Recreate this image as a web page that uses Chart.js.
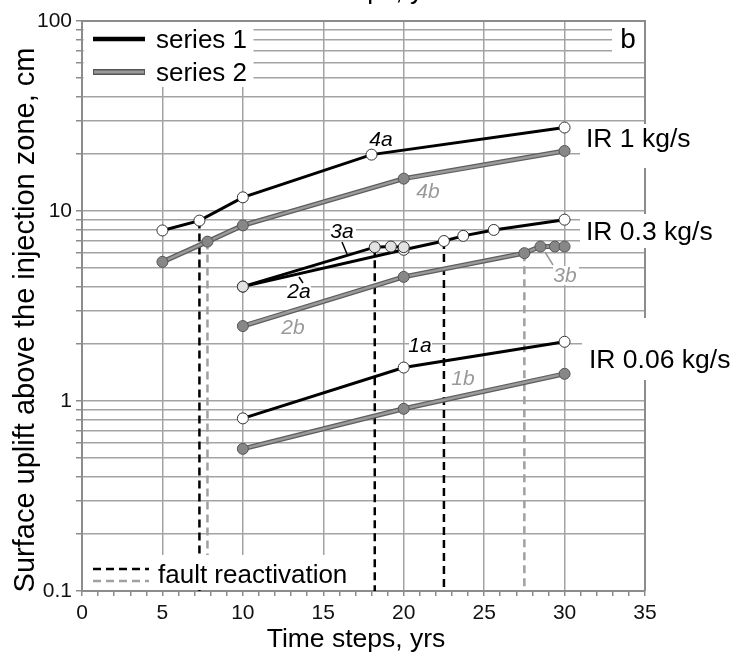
<!DOCTYPE html>
<html><head><meta charset="utf-8">
<script src="https://cdn.jsdelivr.net/npm/chart.js@4/dist/chart.umd.min.js"></script>
<style>html,body{margin:0;padding:0;background:#fff}#wrap{width:736px;height:658px}</style>
</head><body><div id="wrap"><canvas id="c" width="736" height="658"></canvas></div>
<script>
// tick labels
const xTickLabels = [0,5,10,15,20,25,30,35];
const yTickLabels = [0.1,1,10,100];
const xTitle = 'Time steps, yrs';
const yTitle = 'Surface uplift above the injection zone, cm';

// series 1 (black, open markers)
const t4a = [5,7.3,10,18,30],          v4a = [7.9,8.9,11.8,19.8,27.5];
const t3a = [10,18.2,19.2,20],         v3a = [4.0,6.45,6.5,6.45];
const t2a = [10,20,22.5,23.7,25.6,30], v2a = [4.0,6.25,6.95,7.4,7.95,9.0];
const t1a = [10,20,30],                v1a = [0.81,1.5,2.05];
// series 2 (grey, filled markers)
const t4b = [5,7.8,10,20,30],          v4b = [5.4,6.9,8.4,14.8,20.7];
const t3b = [10,20,27.5,28.5,29.4,30], v3b = [2.48,4.5,6.0,6.5,6.5,6.5];
const t1b = [10,20,30],                v1b = [0.56,0.91,1.39];
// fault reactivation (time, uplift at onset)
const faultBlackT = [7.3,18.2,22.5], faultBlackV = [8.9,6.45,6.95];
const faultGreyT  = [7.8,27.5],      faultGreyV  = [6.9,6.0];

const FONT = '"Liberation Sans", Arial, sans-serif';
const pts = (xs, ys) => xs.map((x,i)=>({x:x, y:ys[i]}));

function s1(xs, ys, fill){
  return {data:pts(xs,ys), borderColor:'#000', borderWidth:3, pointRadius:5.5,
    pointBackgroundColor: fill || '#fff', pointBorderColor:'#333', pointBorderWidth:1, tension:0};
}
function s2in(xs, ys){
  return {data:pts(xs,ys), borderColor:'#9a9a9a', borderWidth:2.5, pointRadius:5.5,
    pointBackgroundColor:'#878787', pointBorderColor:'#555', pointBorderWidth:1, tension:0};
}
function s2out(xs, ys){
  return {data:pts(xs,ys), borderColor:'#5e5e5e', borderWidth:5, pointRadius:0, tension:0};
}
function fault(t, v, col){
  return {data:[{x:t,y:v},{x:t,y:0.1}], borderColor:col, borderWidth:2.5, borderDash:[8,5], pointRadius:0};
}

const datasets = [
  s1(t4a,v4a), s1(t3a,v3a,'#e2e2e2'), s1(t2a,v2a,'#fff'), s1(t1a,v1a),
  s2in(t4b,v4b), s2in(t3b,v3b), s2in(t1b,v1b),
  s2out(t4b,v4b), s2out(t3b,v3b), s2out(t1b,v1b)
];
faultBlackT.forEach((t,i)=>datasets.push(fault(t, faultBlackV[i], '#000')));
faultGreyT.forEach((t,i)=>datasets.push(fault(t, faultGreyV[i], '#a0a0a0')));
datasets[2].pointBackgroundColor = v2a.map((v,i)=> i===0 ? '#e2e2e2' : (i===1 ? '#f4f4f4' : '#fff'));

const yAll = [];
for (let d = 0.1; d < 100; d *= 10) for (let k = 1; k <= 9; k++) yAll.push(+(k*d).toPrecision(3));
yAll.push(100);

const deco = {
  id:'deco',
  afterDatasetsDraw(chart){
    const c = chart.ctx, a = chart.chartArea;
    c.save();
    c.strokeStyle = '#8c8c8c'; c.lineWidth = 2;
    c.beginPath(); c.moveTo(a.left, a.top); c.lineTo(a.right, a.top); c.lineTo(a.right, a.bottom); c.stroke();
    c.fillStyle = '#fff';
    const boxes = [[83.5,22,170,65],[612,22,32,34],[580,124,156,44],[580,214,156,34],[582,318,154,62],[83.5,555,282,35],
      [330,222,26,18],[287,283,24,18],[281,318,25,19],[553,266,26,19],[409,337,23,17],[451,370,24,17],[416,182,24,19],[369,131,24,17]];
    boxes.forEach(b=>c.fillRect(b[0],b[1],b[2],b[3]));
    c.lineCap = 'butt';
    c.strokeStyle = '#000'; c.lineWidth = 4.5;
    c.beginPath(); c.moveTo(93,39); c.lineTo(145,39); c.stroke();
    c.strokeStyle = '#555'; c.lineWidth = 6;
    c.beginPath(); c.moveTo(93,72); c.lineTo(145,72); c.stroke();
    c.strokeStyle = '#9a9a9a'; c.lineWidth = 3;
    c.beginPath(); c.moveTo(94,72); c.lineTo(144,72); c.stroke();
    c.fillStyle = '#000'; c.font = '26px ' + FONT; c.textBaseline = 'alphabetic'; c.textAlign = 'left';
    c.fillText('series 1', 156, 48);
    c.fillText('series 2', 156, 81);
    c.setLineDash([8,5]); c.lineWidth = 2.5;
    c.strokeStyle = '#000'; c.beginPath(); c.moveTo(93,569); c.lineTo(149,569); c.stroke();
    c.strokeStyle = '#a0a0a0'; c.beginPath(); c.moveTo(93,581); c.lineTo(149,581); c.stroke();
    c.setLineDash([]);
    c.fillStyle = '#000'; c.fillText('fault reactivation', 158, 583);
    c.font = '28px ' + FONT; c.textAlign = 'center'; c.fillText('b', 628, 48);
    c.font = '26.5px ' + FONT; c.textAlign = 'left';
    c.fillText('IR 1 kg/s', 586, 147);
    c.fillText('IR 0.3 kg/s', 586, 240);
    c.fillText('IR 0.06 kg/s', 589, 368);
    c.font = 'italic 21px ' + FONT; c.textAlign = 'center'; c.textBaseline = 'middle';
    const lab = (t,x,y,col)=>{ c.fillStyle = col; c.fillText(t,x,y); };
    lab('4a',381,140,'#000'); lab('4b',428,192,'#9a9a9a');
    lab('3a',342,232,'#000'); lab('2a',299,292,'#000');
    lab('2b',293,328,'#9a9a9a'); lab('3b',565,276,'#9a9a9a');
    lab('1a',420,346,'#000'); lab('1b',463,379,'#9a9a9a');
    c.lineWidth = 1.5;
    c.strokeStyle = '#000';
    c.beginPath(); c.moveTo(342,242); c.lineTo(347,254); c.stroke();
    c.beginPath(); c.moveTo(299,277); c.lineTo(303,283); c.stroke();
    c.strokeStyle = '#9a9a9a';
    c.beginPath(); c.moveTo(545,252); c.lineTo(553,265); c.stroke();
    // axis titles
    c.fillStyle = '#000'; c.textAlign = 'center'; c.textBaseline = 'alphabetic';
    c.font = '26.5px ' + FONT;
    c.fillText(xTitle, 356, 647);
    c.fillText(xTitle, 356, -1); // clipped title of the panel above
    c.save();
    c.translate(34, 320); c.rotate(-Math.PI/2);
    c.font = '29px ' + FONT;
    c.fillText(yTitle, 0, 0);
    c.restore();
    c.restore();
  }
};

new Chart(document.getElementById('c'), {
  type:'line',
  data:{datasets:datasets},
  options:{
    responsive:false, animation:false, devicePixelRatio:1,
    layout:{padding:{top:21, right:91, left:0, bottom:0}},
    plugins:{legend:{display:false}, tooltip:{enabled:false}},
    scales:{
      x:{type:'linear', min:0, max:35,
        ticks:{stepSize:1, autoSkip:false, maxRotation:0, color:'#111', padding:5,
          font:{family:FONT, size:21},
          callback:v=> xTickLabels.includes(v) ? String(v) : ''},
        grid:{color:ctx=> (ctx.tick && ctx.tick.value%5===0 && ctx.tick.value>0 && ctx.tick.value<35) ? '#a3a3a3' : 'rgba(0,0,0,0)',
          lineWidth:1.5, tickColor:'#8c8c8c', tickLength:5, drawOnChartArea:true},
        border:{color:'#8c8c8c', width:2},
        title:{display:false},
        afterFit:s=>{ s.height = 67; }
      },
      y:{type:'logarithmic', min:0.1, max:100,
        afterBuildTicks:s=>{ s.ticks = yAll.map(v=>({value:v})); },
        ticks:{autoSkip:false, color:'#111', padding:4, font:{family:FONT, size:21},
          callback:v=> yTickLabels.includes(+(+v).toPrecision(3)) ? String(+(+v).toPrecision(3)) : ''},
        grid:{color:'#a3a3a3', lineWidth:1.5, tickColor:'#8c8c8c', tickLength:6},
        border:{color:'#8c8c8c', width:2},
        title:{display:false},
        afterFit:s=>{ s.width = 82; }
      }
    }
  },
  plugins:[deco]
});
</script>
</body></html>
